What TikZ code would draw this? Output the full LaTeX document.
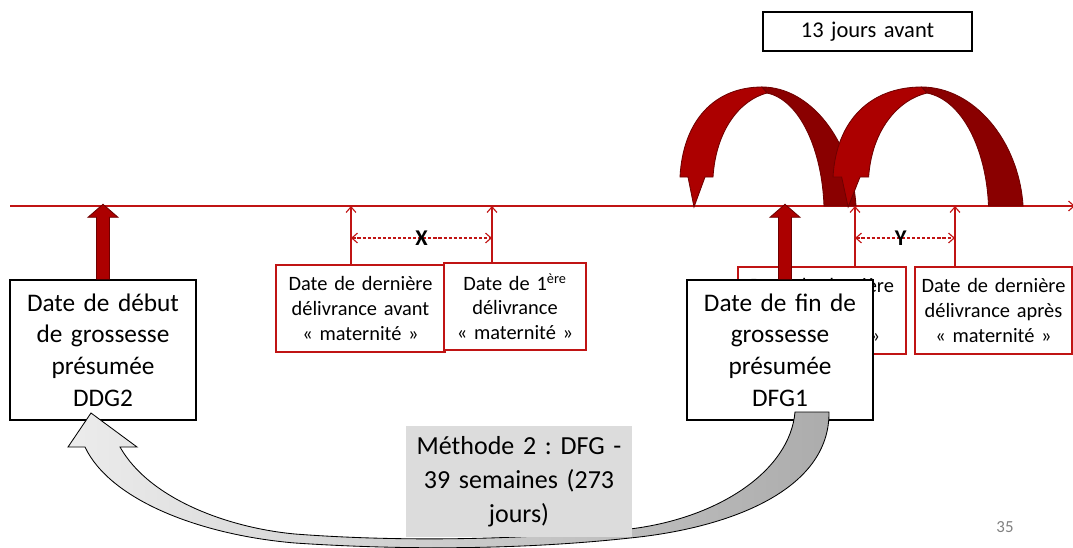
\documentclass[tikz,border=0pt]{standalone}
\usepackage{fontspec}
\setmainfont{Carlito}
\frenchspacing
\usetikzlibrary{arrows.meta,calc}
\definecolor{linered}{RGB}{192,20,20}
\definecolor{arclight}{RGB}{172,0,0}
\definecolor{arcdark}{RGB}{138,0,0}
\definecolor{arcedge}{RGB}{110,0,0}
\definecolor{notegray}{RGB}{220,220,220}
\tikzset{
  date box/.style={
    draw=black,
    fill=white,
    line width=1pt,
    inner sep=0pt,
    text width=4.65cm,
    minimum height=3.5cm,
    align=center,
    font=\fontsize{18}{22.5}\selectfont,
  },
  red box/.style={
    draw=linered,
    fill=white,
    line width=1pt,
    inner sep=0pt,
    minimum height=2.175cm,
    align=center,
    font=\fontsize{14.5}{17.5}\selectfont,
  },
  thin arrow/.style={
    linered,
    line width=0.8pt,
    -{Straight Barb[length=4pt,width=7pt]},
  },
  gap arrow/.style={
    linered,
    line width=0.8pt,
    dash pattern=on 2.2pt off 1.4pt,
    {Straight Barb[length=4pt,width=7pt]}-{Straight Barb[length=4pt,width=7pt]},
  },
  gap label/.style={
    text=black,
    font=\fontsize{16}{16}\selectfont\bfseries,
    inner sep=0pt,
  },
  block arrow/.style={
    fill=arclight,
    draw=arcedge,
    line width=0.6pt,
  }
}
\newcommand\hoparrow[2]{%
  \begin{scope}[shift={(#1,0)}, xscale=#2, line width=0.6pt, draw=arcedge]
    \filldraw[fill=arcdark] (82,87) .. controls (130,87) and (172,140) .. (176,206)
      -- (144,206) .. controls (142,150) and (120,100) .. (87,93) -- cycle;
    \filldraw[fill=arclight] (0,177) .. controls (3,120) and (35,87) .. (82,87)
      -- (87,93) .. controls (60,100) and (36,130) .. (33,177)
      -- (25,177) -- (14,207) -- (8,177) -- cycle;
  \end{scope}}

\begin{document}
\begin{tikzpicture}[x=0.025cm, y=-0.025cm]
\useasboundingbox (0,0) rectangle (1073,547);

% time line
\coordinate (start) at (10,206);
\coordinate (end) at (1075,206);
\coordinate (ta) at (351,206);
\coordinate (tb) at (492,206);
\coordinate (tc) at (855,206);
\coordinate (td) at (955,206);
\draw[thin arrow] (start) -- (end);

\hoparrow{680}{1}
\hoparrow{833}{1.08}

\node[red box, text width=4.225cm] (avant) at (360.5,308.5)
  {Date de dernière\\délivrance avant\\« maternité »};
\node[red box, text width=3.55cm] (premiere) at (515,306.5)
  {Date de 1\textsuperscript{ère}\\délivrance\\« maternité »};
\node[red box, text width=4.2cm] (cachee) at (822,310.5)
  {Date de dernière\\délivrance\\« maternité »};
\node[red box, text width=3.925cm] (apres) at (993.5,310.5)
  {Date de dernière\\délivrance après\\« maternité »};

\draw[thin arrow] (avant.north -| ta) -- (ta);
\draw[thin arrow] (premiere.north -| tb) -- (tb);
\draw[thin arrow] (cachee.north -| tc) -- (tc);
\draw[thin arrow] (apres.north -| td) -- (td);
\draw[gap arrow] (ta |- 0,238) -- node[gap label] {X} (tb |- 0,238);
\draw[gap arrow] (tc |- 0,238) -- node[gap label, xshift=-3pt] {Y} (td |- 0,238);

\node[date box] (ddg) at (103,350) {Date de début\\de grossesse\\présumée\\DDG2};
\node[date box] (dfg) at (780,350) {Date de fin de\\grossesse\\présumée\\DFG1};
\begin{scope}[shift={(ddg.north)}]
  \path[block arrow] (-6.5,0) -- (-6.5,-62) -- (-15,-62) -- (0,-75)
    -- (15,-62) -- (6.5,-62) -- (6.5,0);
\end{scope}
\begin{scope}[shift={($(dfg.north)+(5,0)$)}]
  \path[block arrow] (-6.5,0) -- (-6.5,-62) -- (-15,-62) -- (0,-75)
    -- (15,-62) -- (6.5,-62) -- (6.5,0);
\end{scope}

% retour de DFG1 vers DDG2
\draw[left color=gray!15, right color=gray!65, draw=black, line width=0.6pt]
  (829,412) .. controls (830,490) and (730,528) .. (630,538)
  .. controls (520,550) and (400,550) .. (295,543)
  .. controls (200,535) and (110,500) .. (85,447)
  -- (68,447) -- (91,413) -- (137,447) -- (120,447)
  .. controls (150,500) and (230,528) .. (295,534)
  .. controls (400,542) and (520,540) .. (630,529)
  .. controls (720,518) and (790,470) .. (795,412) -- cycle;

\node[fill=notegray, text width=5.65cm, minimum height=2.775cm, inner sep=0pt,
  align=center, font=\fontsize{18.5}{24}\selectfont] (methode) at (519,481.5)
  {Méthode 2 : DFG -\\39 semaines (273\\jours)};

\node[draw=black, line width=1pt, text width=5.225cm, minimum height=0.975cm,
  inner sep=0pt, align=center, font=\fontsize{16}{19}\selectfont] (treize)
  at (867.5,31.5) {13 jours avant};
\node[text=gray, font=\fontsize{12}{14}\selectfont] (page) at (1005,527) {35};

\end{tikzpicture}
\end{document}
